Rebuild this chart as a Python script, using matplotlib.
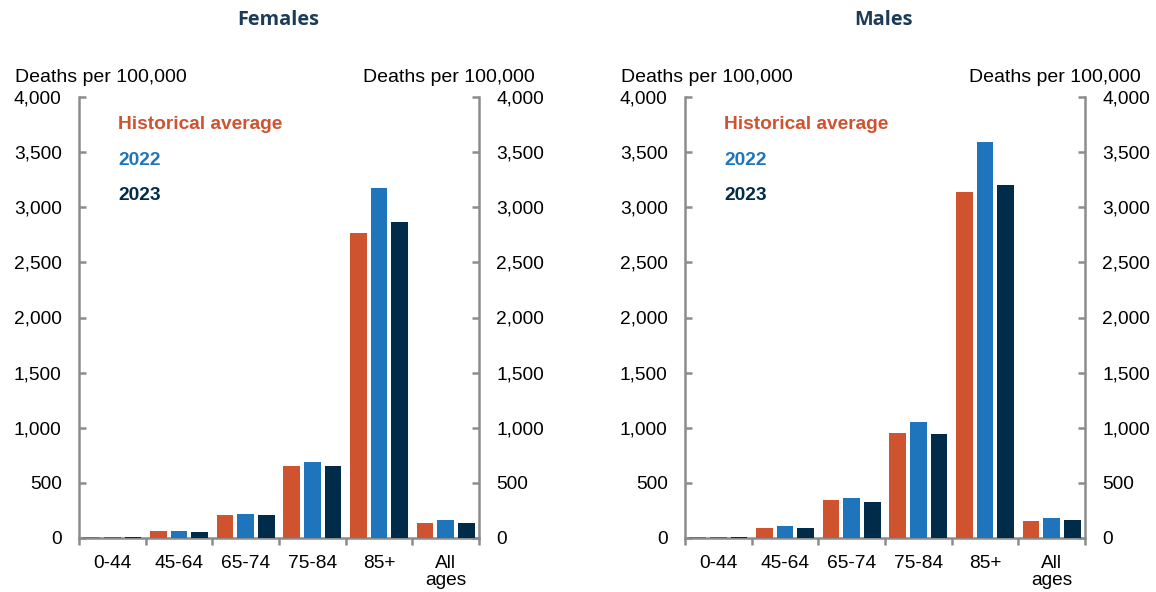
import numpy as np
import matplotlib
matplotlib.use('Agg')
from matplotlib import pyplot as plt

plt.rcParams['font.family'] = ['Liberation Sans', 'DejaVu Sans']

ageGroups = ['0-44', '45-64', '65-74', '75-84', '85+', 'All\nages']
seriesNames = ['Historical average', '2022', '2023']

females_hist = [5, 60, 205, 652, 2765, 140]
females_2022 = [5, 60, 215, 685, 3173, 160]
females_2023 = [5, 50, 205, 652, 2866, 140]

males_hist = [8, 95, 342, 952, 3140, 150]
males_2022 = [8, 105, 360, 1048, 3595, 184]
males_2023 = [8, 95, 327, 940, 3206, 160]

yTicks = [0, 500, 1000, 1500, 2000, 2500, 3000, 3500, 4000]

cOrange = '#D0532F'
cBlue = '#1F75BC'
cNavy = '#002B49'
cTitle = '#1C3B57'
cSpine = '#8C8C8C'

figW, figH = 1156, 592
fsTick = 13.8


def drawPanel(fig, left, title, hist, y22, y23):
    ax = fig.add_axes([left / figW, (figH - 538) / figH, 400 / figW, 441 / figH])
    x = np.arange(len(ageGroups))
    off = 0.31
    w = 0.25
    for i, (vals, col) in enumerate(zip([hist, y22, y23], [cOrange, cBlue, cNavy])):
        ax.bar(x + (i - 1) * off, vals, width=w, color=col, zorder=3)

    ax.set_xlim(-0.5, 5.5)
    ax.set_ylim(0, 4000)
    ax.spines['top'].set_visible(False)
    for s in ['left', 'right', 'bottom']:
        ax.spines[s].set_color(cSpine)
        ax.spines[s].set_linewidth(1.8)

    # ticks at the category borders, labels in the middle
    ax.set_xticks(np.arange(-0.5, 6, 1))
    ax.set_xticklabels([])
    ax.set_xticks(x, minor=True)
    ax.set_xticklabels(ageGroups, minor=True, fontsize=fsTick, linespacing=1.05)
    ax.tick_params(axis='x', which='major', direction='out', length=5, width=1.8, color=cSpine)
    ax.tick_params(axis='x', which='minor', length=0, pad=12)

    ax.set_yticks(yTicks)
    ax.set_yticklabels(['{:,}'.format(v) for v in yTicks], fontsize=fsTick)
    ax.tick_params(axis='y', direction='in', length=5, width=1.8, color=cSpine,
                   left=True, right=True, labelleft=True, labelright=True, pad=12.5)

    # legend as coloured text
    ty = [0.938, 0.856, 0.777]
    for name, col, yy in zip(seriesNames, [cOrange, cBlue, cNavy], ty):
        ax.text(0.098, yy, name, transform=ax.transAxes, color=col,
                fontsize=13.8, fontweight='bold', va='center', ha='left')

    # unit labels above both axes
    fig.text((left - 64) / figW, 1 - 77 / figH, 'Deaths per 100,000', fontsize=14,
             ha='left', va='center')
    fig.text((left + 456) / figW, 1 - 77 / figH, 'Deaths per 100,000', fontsize=14,
             ha='right', va='center')

    fig.text((left + 199) / figW, 1 - 20 / figH, title, fontsize=14.3, fontweight='bold',
             color=cTitle, ha='center', va='center', family=['Open Sans', 'DejaVu Sans'])
    return ax


fig = plt.figure(figsize=(figW / 100, figH / 100), dpi=100)

drawPanel(fig, 79, 'Females', females_hist, females_2022, females_2023)
drawPanel(fig, 685, 'Males', males_hist, males_2022, males_2023)

plt.savefig('out.png', dpi=100)
